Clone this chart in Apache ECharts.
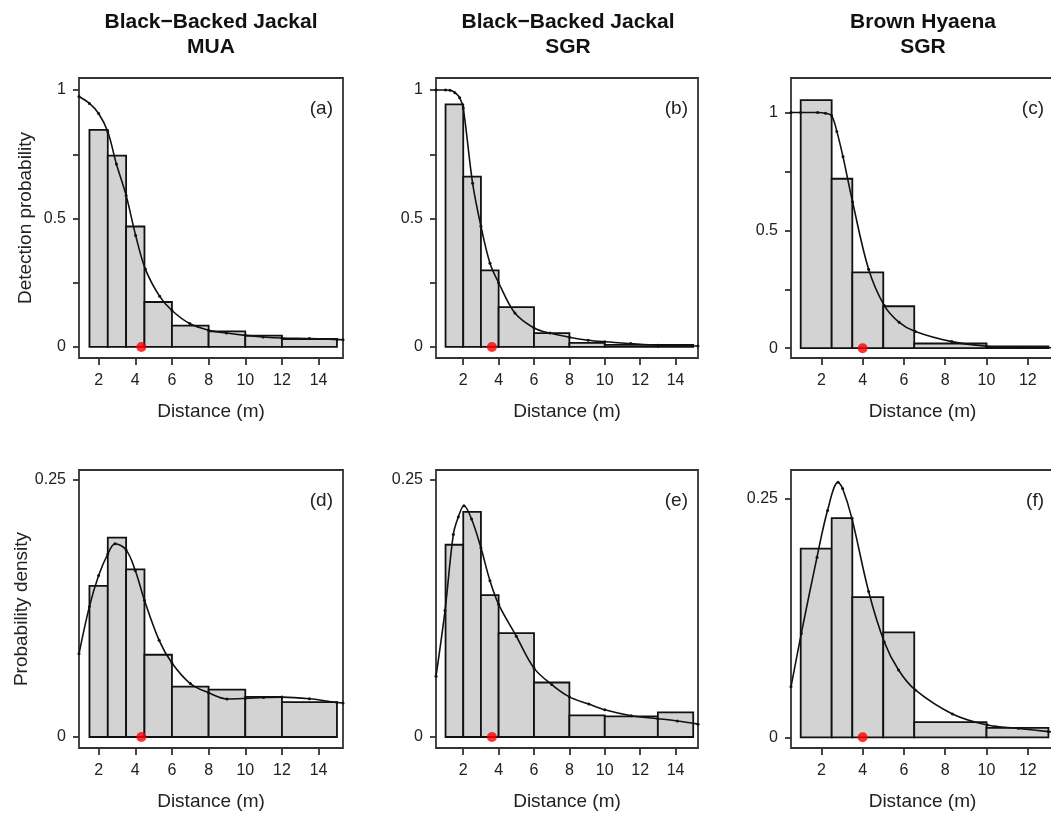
<!DOCTYPE html>
<html>
<head>
<meta charset="utf-8">
<script src="https://cdn.jsdelivr.net/npm/echarts@6/dist/echarts.min.js"></script>
<style>html,body{margin:0;padding:0;background:#fff;}#c{width:1051px;height:819px;}</style>
</head>
<body>
<div id="c"></div>
<script>
// ---------- data ----------
const titles = [["Black\u2212Backed Jackal", "MUA"], ["Black\u2212Backed Jackal", "SGR"], ["Brown Hyaena", "SGR"]];
const panelLetters = ["(a)", "(b)", "(c)", "(d)", "(e)", "(f)"];
const yNameTop = "Detection probability";
const yNameBottom = "Probability density";
const xName = "Distance (m)";

const xTicksLong = [2, 4, 6, 8, 10, 12, 14];
const xTicksShort = [2, 4, 6, 8, 10, 12];
const yTicksDet = [0, 0.25, 0.5, 0.75, 1];
const yLabelsDet = [0, 0.5, 1];
const yTicksDens = [0, 0.25];

// histogram bin edges
const binsJackalMUA = [1.5, 2.5, 3.5, 4.5, 6, 8, 10, 12, 15];
const binsJackalSGR = [1, 2, 3, 4, 6, 8, 10, 13, 15];
const binsHyaenaSGR = [1, 2.5, 3.5, 5, 6.5, 10, 13];

// scaled detection histograms (top row)
const detHistJackalMUA = [0.845, 0.745, 0.469, 0.175, 0.083, 0.061, 0.044, 0.031];
const detHistJackalSGR = [0.944, 0.663, 0.298, 0.155, 0.054, 0.016, 0.008, 0.008];
const detHistHyaenaSGR = [1.053, 0.719, 0.322, 0.178, 0.020, 0.008];

// probability density histograms (bottom row)
const densHistJackalMUA = [0.147, 0.194, 0.163, 0.080, 0.049, 0.046, 0.039, 0.034];
const densHistJackalSGR = [0.187, 0.219, 0.138, 0.101, 0.053, 0.021, 0.020, 0.024];
const densHistHyaenaSGR = [0.198, 0.230, 0.147, 0.110, 0.016, 0.010];

// fitted detection functions
const detCurveJackalMUA = [[0.93,0.975],[1.5,0.948],[2.0,0.909],[2.5,0.838],[2.97,0.712],[3.5,0.59],[4.02,0.434],[4.55,0.303],[5.33,0.197],[6,0.142],[6.97,0.091],[8,0.065],[8.97,0.054],[10,0.045],[10.97,0.039],[12,0.035],[13.5,0.033],[15,0.029],[15.33,0.028]];
const detCurveJackalSGR = [[0.46,1.0],[1.0,1.0],[1.25,0.999],[1.53,0.99],[1.8,0.97],[2.0,0.93],[2.53,0.637],[3.0,0.47],[3.51,0.326],[4.0,0.25],[4.92,0.132],[6.0,0.074],[6.9,0.054],[8.0,0.0376],[9.06,0.026],[10,0.02],[11.47,0.013],[13.02,0.0065],[14.0,0.005],[15.27,0.004]];
const detCurveHyaenaSGR = [[0.53,1.0],[1.0,1.0],[1.82,1.0],[2.2,0.997],[2.5,0.986],[2.75,0.92],[3.05,0.812],[3.51,0.622],[4.29,0.335],[5.05,0.181],[5.77,0.11],[6.55,0.071],[8.32,0.028],[10,0.0085],[11.5,0.003],[13.27,0.002]];

// fitted probability density functions
const densCurveJackalMUA = [[0.93,0.081],[1.5,0.127],[2.0,0.157],[2.5,0.178],[2.9,0.188],[3.5,0.182],[4.0,0.162],[4.5,0.133],[5.3,0.094],[6,0.072],[7,0.052],[8,0.043],[9,0.037],[10,0.0375],[11,0.0384],[12,0.0388],[13.5,0.0372],[15,0.0336],[15.33,0.033]];
const densCurveJackalSGR = [[0.46,0.059],[0.97,0.123],[1.44,0.197],[1.72,0.214],[2.04,0.225],[2.47,0.212],[3.0,0.184],[3.51,0.152],[4.0,0.129],[5.0,0.098],[6.0,0.067],[7.0,0.051],[8.0,0.039],[9.1,0.032],[10,0.0265],[11.5,0.0207],[13,0.0178],[14.1,0.0155],[15.27,0.0125]];
const densCurveHyaenaSGR = [[0.53,0.053],[1.03,0.109],[1.79,0.189],[2.3,0.238],[2.81,0.2675],[3.03,0.261],[3.48,0.2297],[4.29,0.153],[5.05,0.100],[5.74,0.0706],[6.55,0.0497],[8.35,0.0245],[10.04,0.0129],[11.55,0.0094],[13.0,0.006],[13.27,0.0057]];

// red points on the x axis
const markJackalMUA = 4.33;
const markJackalSGR = 3.62;
const markHyaenaSGR = 4.0;

// ---------- layout ----------
const cols = [
  {left: 79, width: 264, xmin: 0.93, xmax: 15.33, ticks: xTicksLong},
  {left: 436, width: 262, xmin: 0.46, xmax: 15.27, ticks: xTicksLong},
  {left: 791, width: 263, xmin: 0.53, xmax: 13.27, ticks: xTicksShort}
];
const rows = [
  {top: 78, height: 280},
  {top: 470, height: 278}
];

const panels = [
  {r:0,c:0,bins:binsJackalMUA,hist:detHistJackalMUA,curve:detCurveJackalMUA,mark:markJackalMUA,ymin:-0.043,ymax:1.047,ticks:yTicksDet,labels:yLabelsDet,yname:yNameTop},
  {r:0,c:1,bins:binsJackalSGR,hist:detHistJackalSGR,curve:detCurveJackalSGR,mark:markJackalSGR,ymin:-0.043,ymax:1.047,ticks:yTicksDet,labels:yLabelsDet},
  {r:0,c:2,bins:binsHyaenaSGR,hist:detHistHyaenaSGR,curve:detCurveHyaenaSGR,mark:markHyaenaSGR,ymin:-0.0415,ymax:1.1466,ticks:yTicksDet,labels:yLabelsDet},
  {r:1,c:0,bins:binsJackalMUA,hist:densHistJackalMUA,curve:densCurveJackalMUA,mark:markJackalMUA,ymin:-0.0107,ymax:0.2597,ticks:yTicksDens,labels:yTicksDens,yname:yNameBottom},
  {r:1,c:1,bins:binsJackalSGR,hist:densHistJackalSGR,curve:densCurveJackalSGR,mark:markJackalSGR,ymin:-0.0107,ymax:0.2597,ticks:yTicksDens,labels:yTicksDens},
  {r:1,c:2,bins:binsHyaenaSGR,hist:densHistHyaenaSGR,curve:densCurveHyaenaSGR,mark:markHyaenaSGR,ymin:-0.0112,ymax:0.2804,ticks:yTicksDens,labels:yTicksDens}
];

const FONT = '"Liberation Sans", Arial, sans-serif';
const TXT = '#222';
const BOX = '#333';

const grid = [], xAxis = [], yAxis = [], series = [], graphic = [];

panels.forEach((p, i) => {
  const col = cols[p.c], row = rows[p.r];
  grid.push({left: col.left, top: row.top, width: col.width, height: row.height,
    show: true, borderColor: BOX, borderWidth: 1.8, backgroundColor: 'transparent',
    containLabel: false, outerBoundsMode: 'none'});
  xAxis.push({type: 'value', gridIndex: i, min: col.xmin, max: col.xmax,
    name: xName, nameLocation: 'middle', nameGap: 44,
    nameTextStyle: {fontFamily: FONT, fontSize: 19, color: TXT},
    axisLine: {show: false, onZero: false},
    axisTick: {show: true, length: 7, customValues: col.ticks, lineStyle: {color: BOX, width: 1.8}},
    axisLabel: {show: true, customValues: col.ticks, margin: 15, fontFamily: FONT, fontSize: 16, color: TXT},
    splitLine: {show: false}});
  yAxis.push({type: 'value', gridIndex: i, min: p.ymin, max: p.ymax,
    name: p.yname || '', nameLocation: 'middle', nameGap: 44, nameRotate: 90,
    nameTextStyle: {fontFamily: FONT, fontSize: 19, color: TXT},
    axisLine: {show: false, onZero: false},
    axisTick: {show: true, length: 6, customValues: p.ticks, lineStyle: {color: BOX, width: 1.8}},
    axisLabel: {show: true, customValues: p.labels, margin: 13, fontFamily: FONT, fontSize: 16, color: TXT},
    splitLine: {show: false}});
  const barData = p.hist.map((h, k) => [p.bins[k], p.bins[k + 1], h]);
  series.push({type: 'custom', xAxisIndex: i, yAxisIndex: i, data: barData, clip: true,
    encode: {x: [0, 1], y: 2},
    renderItem: (params, api) => {
      const a = api.coord([api.value(0), api.value(2)]);
      const b = api.coord([api.value(1), 0]);
      return {type: 'rect', shape: {x: a[0], y: a[1], width: b[0] - a[0], height: b[1] - a[1]},
        style: {fill: '#d3d3d3', stroke: '#111', lineWidth: 1.8}};
    }, z: 2});
  series.push({type: 'line', xAxisIndex: i, yAxisIndex: i, data: p.curve, smooth: 0.35,
    showSymbol: true, symbol: 'circle', symbolSize: 3, clip: true,
    itemStyle: {color: '#111'}, lineStyle: {color: '#111', width: 1.6}, z: 3});
  series.push({type: 'scatter', xAxisIndex: i, yAxisIndex: i, data: [[p.mark, 0]],
    symbolSize: 10, itemStyle: {color: '#ff0000'}, z: 4});
  graphic.push({type: 'text', x: col.left + col.width - 10, y: row.top + 31,
    style: {text: panelLetters[i], textAlign: 'right', textVerticalAlign: 'middle',
      font: '19px ' + FONT, fill: TXT}});
});

cols.forEach((col, k) => {
  const cx = col.left + 132;
  graphic.push({type: 'text', x: cx, y: 22, style: {text: titles[k][0], textAlign: 'center', textVerticalAlign: 'middle', font: 'bold 21px ' + FONT, fill: '#111'}});
  graphic.push({type: 'text', x: cx, y: 47, style: {text: titles[k][1], textAlign: 'center', textVerticalAlign: 'middle', font: 'bold 21px ' + FONT, fill: '#111'}});
});

const chart = echarts.init(document.getElementById('c'), null, {renderer: 'canvas'});
chart.setOption({animation: false, backgroundColor: '#fff', grid, xAxis, yAxis, series, graphic});
</script>
</body>
</html>
